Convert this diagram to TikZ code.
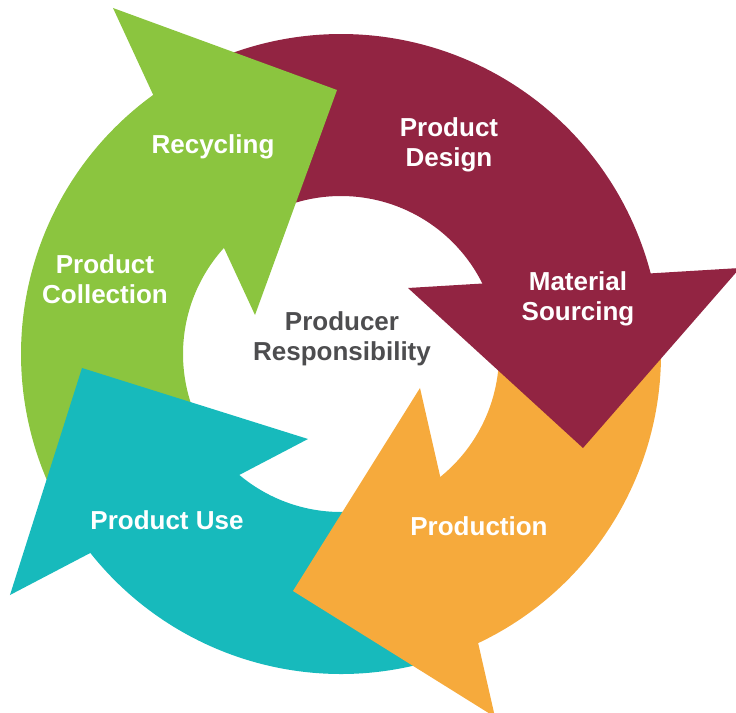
\documentclass[tikz,border=0pt]{standalone}
\usepackage{fontspec}
\setmainfont{Liberation Sans}
\definecolor{cyclegreen}{RGB}{139,197,63}
\definecolor{cyclemaroon}{RGB}{146,36,66}
\definecolor{cycleorange}{RGB}{246,170,60}
\definecolor{cycleteal}{RGB}{23,186,188}
\definecolor{hubgray}{RGB}{77,77,79}
\tikzset{
  steplabel/.style={text=white, font=\fontsize{26bp}{30bp}\selectfont\bfseries, align=center, inner sep=0pt},
  hublabel/.style={text=hubgray, font=\fontsize{26bp}{30bp}\selectfont\bfseries, align=center, inner sep=0pt}
}
\begin{document}
\begin{tikzpicture}[x=1bp,y=1bp]
  \useasboundingbox (-341,-359) rectangle (395,354);
  % ring pieces, cut under the heads
  \fill[cyclegreen] (211.1:320) arc[start angle=211.1, end angle=118.9, radius=320]
    -- (118.9:158) arc[start angle=118.9, end angle=211.1, radius=158] -- cycle;
  \fill[cyclemaroon] (118.9:320) arc[start angle=118.9, end angle=6.8, radius=320]
    -- (6.8:158) arc[start angle=6.8, end angle=118.9, radius=158] -- cycle;
  \fill[cycleorange] (6.8:320) arc[start angle=6.8, end angle=-73.4, radius=320]
    -- (-73.4:158) arc[start angle=-73.4, end angle=6.8, radius=158] -- cycle;
  \fill[cycleteal] (-73.4:320) arc[start angle=-73.4, end angle=-148.9, radius=320]
    -- (-148.9:158) arc[start angle=-148.9, end angle=-73.4, radius=158] -- cycle;
  % heads
  \fill[cyclegreen] (-228,346) -- (-4,264) -- (-86,39) -- cycle;
  \fill[cyclemaroon] (399,86) -- (242,-94) -- (67,66) -- cycle;
  \fill[cycleorange] (154,-363) -- (-48,-237) -- (79,-34) -- cycle;
  \fill[cycleteal] (-331,-241) -- (-259,-14) -- (-33,-85) -- cycle;
  % labels
  \node[steplabel] (recycling) at (-128,207) {Recycling};
  \node[steplabel] (collection) at (-236,75) {Product\\Collection};
  \node[steplabel] (design) at (108,209) {Product\\Design};
  \node[steplabel] (sourcing) at (237,55) {Material\\Sourcing};
  \node[steplabel] (production) at (138,-172) {Production};
  \node[steplabel] (use) at (-174,-166) {Product Use};
  \node[hublabel] (producer) at (1,15) {Producer\\Responsibility};
\end{tikzpicture}
\end{document}
